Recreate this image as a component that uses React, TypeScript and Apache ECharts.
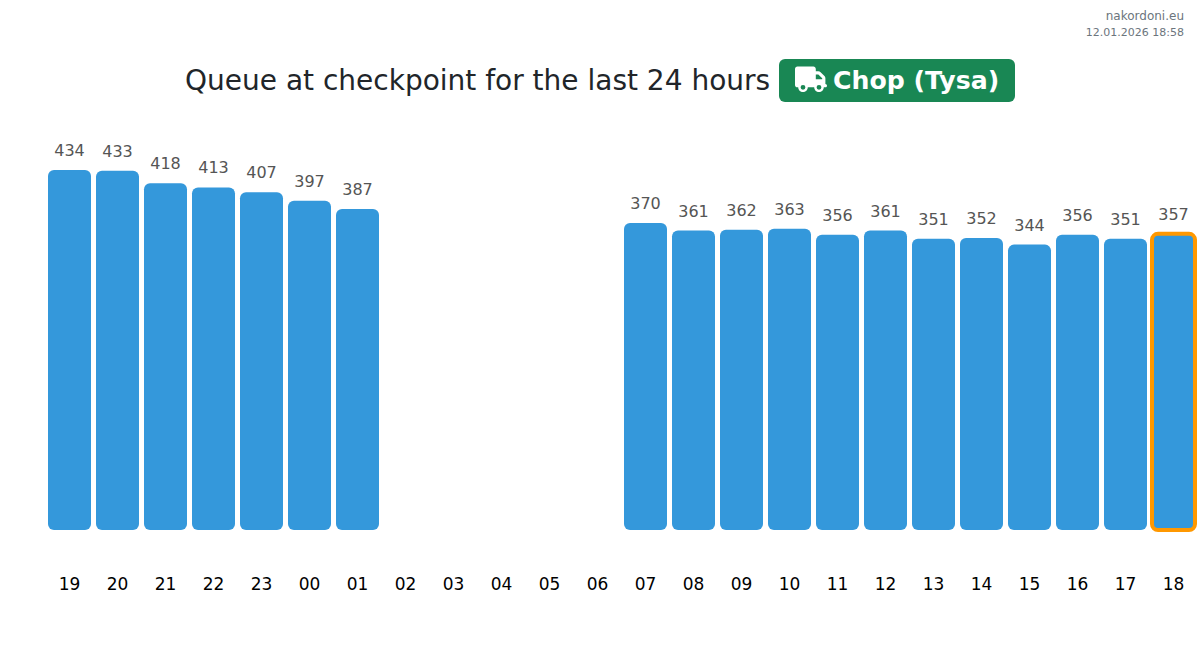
import React, { useEffect, useRef } from "react";
import * as echarts from "echarts";

const hours = ["19","20","21","22","23","00","01","02","03","04","05","06","07","08","09","10","11","12","13","14","15","16","17","18"];
const queue: (number | null)[] = [434,433,418,413,407,397,387,null,null,null,null,null,370,361,362,363,356,361,351,352,344,356,351,357];
const titleText = "Queue at checkpoint for the last 24 hours";
const badgeText = "Chop (Tysa)";
const siteText = "nakordoni.eu";
const dateText = "12.01.2026 18:58";

const TRUCK = "M48 0C21.5 0 0 21.5 0 48V368c0 26.5 21.5 48 48 48H64c0 53 43 96 96 96s96-43 96-96H384c0 53 43 96 96 96s96-43 96-96h32c17.7 0 32-14.3 32-32s-14.3-32-32-32V288 256 237.3c0-17-6.7-33.3-18.7-45.3L512 114.7c-12-12-28.3-18.7-45.3-18.7H416V48c0-26.5-21.5-48-48-48H48zM416 160h50.7L544 237.3V256H416V160zM112 416a48 48 0 1 1 96 0 48 48 0 1 1 -96 0zm368-48a48 48 0 1 1 0 96 48 48 0 1 1 0-96z";
echarts.graphic.registerShape("truck", echarts.graphic.extendPath(TRUCK, {}) as any);

const FONT = "'DejaVu Sans', sans-serif";

export default function App() {
  const ref = useRef<HTMLDivElement>(null);
  useEffect(() => {
    document.body.style.margin = "0";
    const chart = echarts.init(ref.current!, undefined, { renderer: "svg" });
    const last = queue.length - 1;
    chart.setOption({
      animation: false,
      backgroundColor: "#fff",
      grid: { left: 45.5, width: 1152, top: 131.8, height: 398.2 },
      xAxis: {
        type: "category",
        data: hours,
        axisLine: { show: false },
        axisTick: { show: false },
        axisLabel: { color: "#000", fontSize: 17, fontFamily: FONT, margin: 45.5, interval: 0 },
      },
      yAxis: { type: "value", min: 0, max: 480, show: false },
      series: [
        {
          type: "bar",
          barWidth: 43,
          data: queue,
          itemStyle: { color: "#3498db", borderRadius: 6 },
          label: { show: true, position: "top", distance: 11.5, color: "#555", fontSize: 16, fontFamily: FONT },
        },
        {
          type: "custom",
          z: 5,
          silent: true,
          data: [[last, queue[last]]],
          encode: { x: 0, y: 1 },
          renderItem: (_p: any, api: any) => {
            const top = api.coord([api.value(0), api.value(1)]);
            const base = api.coord([api.value(0), 0]);
            const w = api.size([1, 0])[0] - 5;
            return {
              type: "rect",
              shape: { x: top[0] - w / 2, y: top[1], width: w, height: base[1] - top[1], r: 6 },
              style: { fill: "none", stroke: "#ff9800", lineWidth: 4 },
            };
          },
        },
      ],
      graphic: [
        { type: "text", x: 1184, y: 10, style: { text: siteText, fill: "#6c757d", fontSize: 12, fontFamily: FONT, textAlign: "right", textVerticalAlign: "top" } },
        { type: "text", x: 1184, y: 27, style: { text: dateText, fill: "#6c757d", fontSize: 11, fontFamily: FONT, textAlign: "right", textVerticalAlign: "top" } },
        { type: "text", x: 185, y: 80, style: { text: titleText, fill: "#212529", fontSize: 28, fontFamily: FONT, textAlign: "left", textVerticalAlign: "middle" } },
        { type: "rect", shape: { x: 779, y: 59, width: 236, height: 43, r: 6 }, style: { fill: "#198754" } },
        { type: "truck", x: 795, y: 66.5, scaleX: 0.05, scaleY: 0.05, style: { fill: "#fff" } },
        { type: "text", x: 833, y: 80.5, style: { text: badgeText, fill: "#fff", fontSize: 25.2, fontWeight: "bold", fontFamily: FONT, textAlign: "left", textVerticalAlign: "middle" } },
      ],
    });
    return () => chart.dispose();
  }, []);
  return <div ref={ref} style={{ width: 1200, height: 651 }} />;
}
